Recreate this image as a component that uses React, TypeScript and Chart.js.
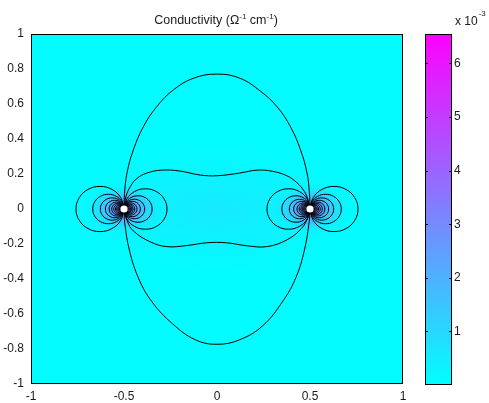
import React, { useEffect, useRef } from "react";
import { Chart, registerables } from "chart.js";
Chart.register(...registerables);

// ---- data ----
const xTicks = [-1, -0.5, 0, 0.5, 1];
const yTicks = [-1, -0.8, -0.6, -0.4, -0.2, 0, 0.2, 0.4, 0.6, 0.8, 1];
const cbTicks = [1, 2, 3, 4, 5, 6]; // x 10^-3
const cbMin = 0;
const cbMax = 6.55;
const electrodesX = [-0.5, 0.5];
const electrodesY = [0, 0];

const ovalTop: [number, number][] = [
  [-0.5, 0], [-0.497, 0.09], [-0.484, 0.205], [-0.45, 0.337], [-0.396, 0.47], [-0.324, 0.585],
  [-0.235, 0.68], [-0.127, 0.747], [0, 0.771], [0.124, 0.747], [0.235, 0.672], [0.324, 0.583],
  [0.396, 0.468], [0.45, 0.335], [0.484, 0.205], [0.497, 0.09], [0.5, 0],
];
const ovalBottom: [number, number][] = [
  [-0.5, 0], [-0.496, -0.08], [-0.47, -0.24], [-0.42, -0.4], [-0.35, -0.53], [-0.24, -0.655],
  [-0.117, -0.747], [0, -0.773], [0.12, -0.748], [0.245, -0.668], [0.355, -0.525], [0.425, -0.39],
  [0.47, -0.235], [0.496, -0.07], [0.5, 0],
];
const peanutTop: [number, number][] = [
  [-0.5, 0], [-0.49, 0.07], [-0.465, 0.13], [-0.43, 0.175], [-0.378, 0.205], [-0.3, 0.222],
  [-0.2, 0.217], [-0.09, 0.194], [0, 0.19], [0.12, 0.205], [0.215, 0.222], [0.3, 0.215],
  [0.375, 0.19], [0.428, 0.152], [0.47, 0.1], [0.49, 0.05], [0.5, 0],
];
const peanutBottom: [number, number][] = [
  [-0.5, 0], [-0.482, -0.07], [-0.45, -0.125], [-0.36, -0.187], [-0.27, -0.215], [-0.163, -0.209],
  [-0.055, -0.193], [0.05, -0.193], [0.16, -0.21], [0.267, -0.215], [0.375, -0.177], [0.455, -0.11],
  [0.49, -0.045], [0.5, 0],
];
// reach (x-extent from the electrode) of the nested loops on the outer / inner side
const outwardReach = [0.258, 0.168, 0.127, 0.1, 0.08, 0.066, 0.055, 0.046, 0.039, 0.033, 0.028, 0.024, 0.02, 0.017, 0.014, 0.011];
const inwardReach = [0.231, 0.151, 0.111, 0.088, 0.07, 0.058, 0.049, 0.042, 0.036, 0.031, 0.026, 0.022, 0.019, 0.016, 0.013, 0.01];
// unit loop shape (tangent at the electrode, reaching 1 along the axis)
const loopShape: [number, number][] = [
  [0, 0], [0.067, 0.25], [0.25, 0.433], [0.5, 0.5], [0.75, 0.433], [0.933, 0.25], [1, 0],
  [0.933, -0.25], [0.75, -0.433], [0.5, -0.5], [0.25, -0.433], [0.067, -0.25], [0, 0],
];

const FONT = '"Liberation Sans", Arial, Helvetica, sans-serif';
const TEXT = "#1a1a1a";

function cool(t: number, a = 1) {
  const r = Math.round(255 * t);
  const g = Math.round(255 * (1 - t));
  return `rgba(${r},${g},255,${a})`;
}

function fmt(v: number) {
  const n = Math.round(v * 100) / 100;
  return String(n === 0 ? 0 : n);
}

const bgPlugin = {
  id: "bgField",
  beforeDatasetsDraw(chart: any) {
    const { ctx, chartArea: a, scales } = chart;
    const sx = scales.x;
    const sy = scales.y;
    ctx.save();
    ctx.beginPath();
    ctx.rect(a.left, a.top, a.width, a.height);
    ctx.clip();
    ctx.fillStyle = cool(0.01);
    ctx.fillRect(a.left, a.top, a.width, a.height);
    // faint central tint
    const cx = sx.getPixelForValue(0);
    const cy = sy.getPixelForValue(0);
    ctx.save();
    ctx.translate(cx, cy);
    ctx.scale(2.2, 1);
    const g0 = ctx.createRadialGradient(0, 0, 0, 0, 0, 75);
    g0.addColorStop(0, cool(0.085));
    g0.addColorStop(0.5, cool(0.06, 0.7));
    g0.addColorStop(1, cool(0.01, 0));
    ctx.fillStyle = g0;
    ctx.fillRect(-90, -90, 180, 180);
    ctx.restore();
    // field near the electrodes
    electrodesX.forEach((ex, i) => {
      const px = sx.getPixelForValue(ex);
      const py = sy.getPixelForValue(electrodesY[i]);
      ctx.save();
      ctx.translate(px, py);
      ctx.scale(1.55, 1);
      const g = ctx.createRadialGradient(0, 0, 0, 0, 0, 26);
      g.addColorStop(0, cool(0.65));
      g.addColorStop(0.15, cool(0.5));
      g.addColorStop(0.35, cool(0.32));
      g.addColorStop(0.6, cool(0.18, 0.85));
      g.addColorStop(0.85, cool(0.08, 0.45));
      g.addColorStop(1, cool(0.02, 0));
      ctx.fillStyle = g;
      ctx.fillRect(-40, -40, 80, 80);
      ctx.restore();
    });
    ctx.restore();
  },
  afterDraw(chart: any) {
    const { ctx, chartArea: a } = chart;
    ctx.save();
    ctx.strokeStyle = "#000";
    ctx.lineWidth = 1;
    ctx.strokeRect(a.left + 0.5, a.top + 0.5, a.width - 1, a.height - 1);
    // title with superscripts
    const parts: [string, boolean][] = [
      ["Conductivity (\u03A9", false],
      ["-1", true],
      [" cm", false],
      ["-1", true],
      [")", false],
    ];
    const big = `12.5px ${FONT}`;
    const small = `8px ${FONT}`;
    let total = 0;
    const widths = parts.map(([s, sup]) => {
      ctx.font = sup ? small : big;
      const w = ctx.measureText(s).width;
      total += w;
      return w;
    });
    let x = (a.left + a.right) / 2 - 1 - total / 2;
    const base = a.top - 10;
    ctx.fillStyle = TEXT;
    ctx.textAlign = "left";
    ctx.textBaseline = "alphabetic";
    parts.forEach(([s, sup], i) => {
      ctx.font = sup ? small : big;
      ctx.fillText(s, x, sup ? base - 5 : base);
      x += widths[i];
    });
    ctx.restore();
  },
};

const cbPlugin = {
  id: "cbDeco",
  afterDraw(chart: any) {
    const { ctx, chartArea: a, scales } = chart;
    const sy = scales.y;
    ctx.save();
    ctx.strokeStyle = "#000";
    ctx.lineWidth = 1;
    cbTicks.forEach((v) => {
      const py = Math.round(sy.getPixelForValue(v)) + 0.5;
      ctx.beginPath();
      ctx.moveTo(a.left, py);
      ctx.lineTo(a.left + 3, py);
      ctx.moveTo(a.right - 3, py);
      ctx.lineTo(a.right, py);
      ctx.stroke();
    });
    ctx.strokeRect(a.left + 0.5, a.top + 0.5, a.width - 1, a.height - 1);
    ctx.fillStyle = TEXT;
    ctx.textAlign = "left";
    ctx.textBaseline = "alphabetic";
    ctx.font = `12px ${FONT}`;
    const s = "x 10";
    const x0 = a.right + 3;
    ctx.fillText(s, x0, a.top - 9);
    const w = ctx.measureText(s).width;
    ctx.font = `8px ${FONT}`;
    ctx.fillText("-3", x0 + w + 1, a.top - 18);
    ctx.restore();
  },
};

function buildDatasets() {
  const line = (pts: [number, number][]) => ({
    data: pts.map(([x, y]) => ({ x, y })),
    showLine: true,
    borderColor: "#000",
    borderWidth: 1,
    pointRadius: 0,
    tension: 0.4,
    fill: false,
  });
  const sets: any[] = [];
  sets.push({
    data: electrodesX.map((x, i) => ({ x, y: electrodesY[i] })),
    showLine: false,
    pointRadius: 3.6,
    pointBackgroundColor: "#fff",
    pointBorderWidth: 0,
    borderWidth: 0,
  });
  [ovalTop, ovalBottom, peanutTop, peanutBottom].forEach((c) => sets.push(line(c)));
  electrodesX.forEach((ex, i) => {
    const ey = electrodesY[i];
    const outDir = ex < 0 ? -1 : 1;
    outwardReach.forEach((r) => {
      sets.push(line(loopShape.map(([u, v]) => [ex + outDir * u * r, ey + v * r])));
    });
    inwardReach.forEach((r) => {
      sets.push(line(loopShape.map(([u, v]) => [ex - outDir * u * r, ey + v * r])));
    });
  });
  return sets;
}

export default function App() {
  const mainRef = useRef<HTMLCanvasElement>(null);
  const cbRef = useRef<HTMLCanvasElement>(null);

  useEffect(() => {
    const tickFont = { family: FONT, size: 12 };
    const main = new Chart(mainRef.current!, {
      type: "scatter",
      data: { datasets: buildDatasets() },
      options: {
        responsive: false,
        animation: false,
        devicePixelRatio: 1,
        layout: { padding: { left: 0, top: 34, right: 86, bottom: 0 } },
        plugins: { legend: { display: false }, tooltip: { enabled: false }, title: { display: false } },
        scales: {
          x: {
            type: "linear",
            min: -1,
            max: 1,
            afterBuildTicks: (s: any) => {
              s.ticks = xTicks.map((value) => ({ value }));
            },
            afterFit: (s: any) => {
              s.height = 19;
            },
            grid: { display: false, drawTicks: false },
            border: { display: false },
            ticks: { padding: 5, font: tickFont, color: TEXT, maxRotation: 0, autoSkip: false, callback: (v: any) => fmt(Number(v)) },
          },
          y: {
            type: "linear",
            min: -1,
            max: 1,
            afterBuildTicks: (s: any) => {
              s.ticks = yTicks.map((value) => ({ value }));
            },
            afterFit: (s: any) => {
              s.width = 31;
            },
            grid: { display: false, drawTicks: false },
            border: { display: false },
            ticks: { padding: 7, font: tickFont, color: TEXT, autoSkip: false, callback: (v: any) => fmt(Number(v)) },
          },
        },
      },
      plugins: [bgPlugin],
    } as any);

    const cb = new Chart(cbRef.current!, {
      type: "bar",
      data: {
        labels: ["conductivity"],
        datasets: [
          {
            data: [[cbMin, cbMax]],
            backgroundColor: (c: any) => {
              const area = c.chart.chartArea;
              if (!area) return cool(0);
              const g = c.chart.ctx.createLinearGradient(0, area.bottom, 0, area.top);
              g.addColorStop(0, cool(0));
              g.addColorStop(1, cool(1));
              return g;
            },
            borderWidth: 0,
            barPercentage: 1,
            categoryPercentage: 1,
          },
        ],
      },
      options: {
        responsive: false,
        animation: false,
        devicePixelRatio: 1,
        layout: { padding: { left: 425, top: 34, right: 0, bottom: 18 } },
        plugins: { legend: { display: false }, tooltip: { enabled: false } },
        scales: {
          x: { display: false },
          y: {
            position: "right",
            min: cbMin,
            max: cbMax,
            afterBuildTicks: (s: any) => {
              s.ticks = cbTicks.map((value) => ({ value }));
            },
            afterFit: (s: any) => {
              s.width = 37;
            },
            grid: { display: false, drawTicks: false },
            border: { display: false },
            ticks: { padding: 2, font: tickFont, color: TEXT, autoSkip: false, callback: (v: any) => fmt(Number(v)) },
          },
        },
      },
      plugins: [cbPlugin],
    } as any);

    return () => {
      main.destroy();
      cb.destroy();
    };
  }, []);

  return (
    <div style={{ position: "absolute", left: 0, top: 0, width: 489, height: 403, background: "#fff" }}>
      <canvas ref={mainRef} width={489} height={403} style={{ position: "absolute", left: 0, top: 0 }} />
      <canvas ref={cbRef} width={489} height={403} style={{ position: "absolute", left: 0, top: 0 }} />
    </div>
  );
}
